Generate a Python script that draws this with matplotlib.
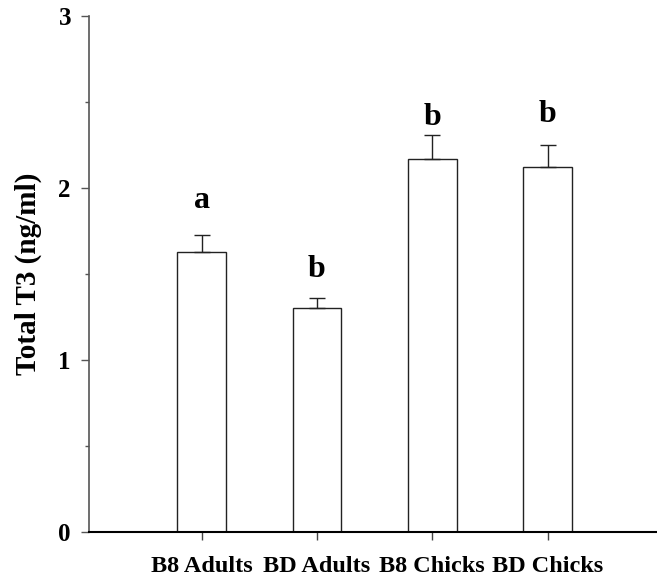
import matplotlib.pyplot as plt
from matplotlib.ticker import MultipleLocator

# group means and standard errors for total T3
groups = ["B8 Adults", "BD Adults", "B8 Chicks", "BD Chicks"]
t3_mean = [1.63, 1.30, 2.17, 2.12]
t3_se = [0.095, 0.06, 0.14, 0.13]
sig_letters = ["a", "b", "b", "b"]
letter_y = [1.885, 1.485, 2.365, 2.385]

plt.rcParams["font.family"] = ["Liberation Serif", "DejaVu Serif"]
plt.rcParams["font.weight"] = "bold"

fig = plt.figure(figsize=(6.57, 5.77), dpi=100)
ax = fig.add_axes([89 / 657, 45 / 577, 568 / 657, 516 / 577])

pos = [1, 2, 3, 4]
ax.bar(pos, t3_mean, width=0.42, color="white", edgecolor="#222222", linewidth=1.0, zorder=2)
ax.errorbar(pos, t3_mean, yerr=[[0] * len(t3_se), t3_se], fmt="none",
            ecolor="#222222", elinewidth=1.0, capsize=6, capthick=1.0, zorder=3)

for x, y, s in zip(pos, letter_y, sig_letters):
    ax.text(x, y, s, ha="center", va="baseline", fontsize=23, fontweight="bold")

ax.set_xlim(0.025, 4.947)
ax.set_ylim(0, 3)
ax.set_xticks(pos)
ax.set_xticklabels(groups, fontsize=17.5, fontweight="bold")
ax.yaxis.set_minor_locator(MultipleLocator(0.5))
ax.set_yticks([0, 1, 2, 3])
ax.set_yticklabels(["0", "1", "2", "3"], fontsize=18, fontweight="bold")

ax.tick_params(axis="y", which="major", direction="out", length=6, width=1.0,
               color="#555555", pad=7)
ax.tick_params(axis="y", which="minor", direction="out", length=3, width=1.0,
               color="#555555")
ax.tick_params(axis="x", which="major", direction="out", length=6, width=1.0,
               color="#444444", pad=11)

for side in ("top", "right"):
    ax.spines[side].set_visible(False)
ax.spines["left"].set_color("#555555")
ax.spines["left"].set_linewidth(1.2)
ax.spines["bottom"].set_color("black")
ax.spines["bottom"].set_linewidth(1.5)

fig.text(28 / 657, 1 - 274 / 577, "Total T3 (ng/ml)", rotation=90,
         ha="center", va="center", fontsize=21, fontweight="bold")

fig.savefig("out.png", dpi=100)
